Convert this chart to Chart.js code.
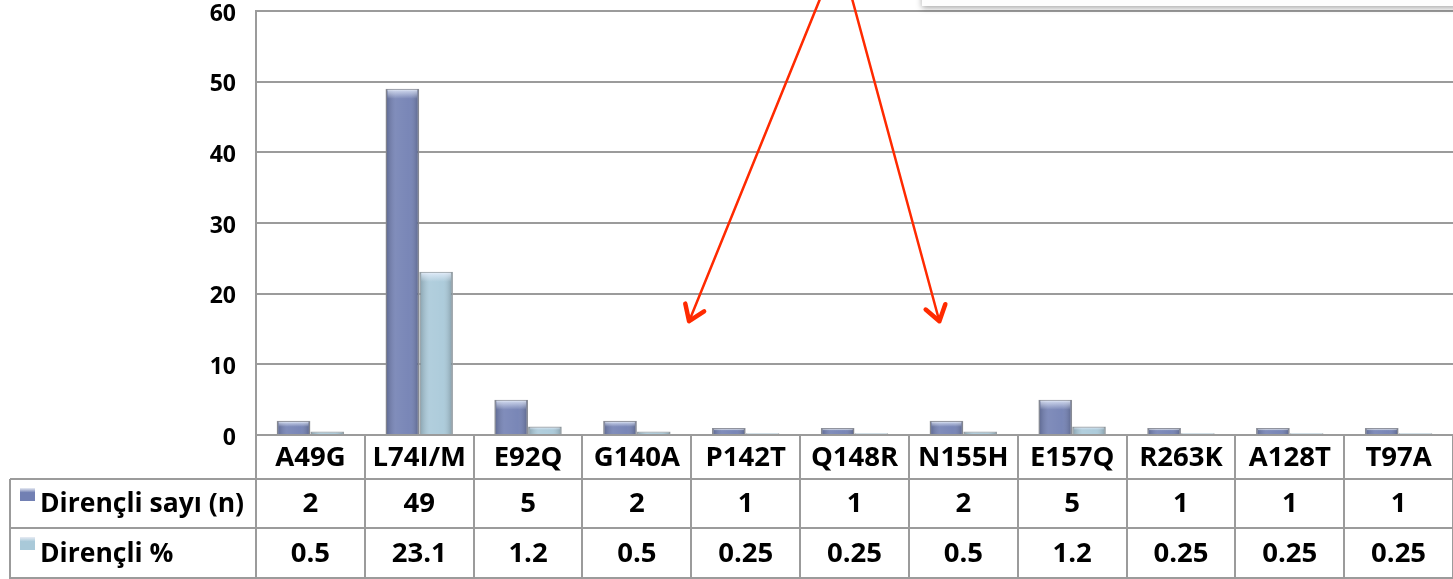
<!DOCTYPE html>
<html>
<head>
<meta charset="utf-8">
<script src="https://cdn.jsdelivr.net/npm/chart.js@4.4.1/dist/chart.umd.min.js"></script>
<style>
  html, body { margin: 0; padding: 0; background: #fff; }
  canvas { display: block; }
</style>
</head>
<body>
<canvas id="mutChart" width="1453" height="579"></canvas>
<script>
// ── Direnç mutasyonları – bar chart + data table ──

const categories = ['A49G','L74I/M','E92Q','G140A','P142T','Q148R','N155H','E157Q','R263K','A128T','T97A'];
const sayi = [2, 49, 5, 2, 1, 1, 2, 5, 1, 1, 1];
const yuzde = [0.5, 23.1, 1.2, 0.5, 0.25, 0.25, 0.5, 1.2, 0.25, 0.25, 0.25];
const yTicks = [0, 10, 20, 30, 40, 50, 60];
const rowNames = ['Dirençli sayı (n)', 'Dirençli %'];

const FONT = '"Open Sans", Lato, sans-serif';
const C1 = '#7280b3';
const C2 = '#a9c9d9';
const LINE = '#9b9b9b';

// 3D-ish shading on each bar (cylinder sides + light top cap)
const shadePlugin = {
  id: 'barShade',
  afterDatasetsDraw(chart) {
    const { ctx } = chart;
    ctx.save();
    chart.data.datasets.forEach((ds, di) => {
      chart.getDatasetMeta(di).data.forEach(bar => {
        const { x, y, base, width } = bar.getProps(['x', 'y', 'base', 'width'], true);
        const l = x - width / 2, h = base - y;
        if (h < 1) return;
        const g = ctx.createLinearGradient(l, 0, l + width, 0);
        g.addColorStop(0, 'rgba(0,0,0,0.22)');
        g.addColorStop(0.3, 'rgba(255,255,255,0.10)');
        g.addColorStop(0.7, 'rgba(255,255,255,0.05)');
        g.addColorStop(1, 'rgba(0,0,0,0.25)');
        ctx.fillStyle = g;
        ctx.fillRect(l + 1, y + 1, width - 2, h - 1);
        const capH = Math.min(10, h * 0.45);
        const c = ctx.createLinearGradient(0, y, 0, y + capH);
        c.addColorStop(0, 'rgba(235,242,255,0.85)');
        c.addColorStop(1, 'rgba(235,242,255,0)');
        ctx.fillStyle = c;
        ctx.fillRect(l + 2, y + 1, width - 4, capH);
      });
    });
    ctx.restore();
  }
};

// table under the plot: category row + two value rows
const tablePlugin = {
  id: 'dataTable',
  afterDraw(chart) {
    const { ctx, chartArea: a, scales: { x } } = chart;
    const colW = a.width / categories.length;
    const r0 = a.bottom, r1 = 479, r2 = 528, r3 = 579;
    const left = 10;
    ctx.save();
    ctx.strokeStyle = LINE; ctx.lineWidth = 2;
    ctx.beginPath();
    ctx.moveTo(left, r1); ctx.lineTo(a.right, r1);
    ctx.moveTo(left, r2); ctx.lineTo(a.right, r2);
    ctx.moveTo(left, r3 - 1); ctx.lineTo(a.right, r3 - 1);
    ctx.moveTo(left, r1); ctx.lineTo(left, r3);
    for (let i = 0; i <= categories.length; i++) {
      const xx = Math.round(a.left + i * colW);
      ctx.moveTo(xx, r0); ctx.lineTo(xx, r3);
    }
    ctx.stroke();

    ctx.fillStyle = '#000';
    ctx.textAlign = 'center'; ctx.textBaseline = 'middle';
    ctx.font = 'bold 27.5px ' + FONT;
    categories.forEach((c, i) => {
      const cx = x.getPixelForValue(i);
      ctx.fillText(c, cx, (r0 + r1) / 2 + 1);
      ctx.fillText(String(sayi[i]), cx, (r1 + r2) / 2 + 1);
      ctx.fillText(String(yuzde[i]), cx, (r2 + r3) / 2 + 1);
    });

    // row headers with legend swatches
    ctx.textAlign = 'left';
    ctx.font = 'bold 26.5px ' + FONT;
    [C1, C2].forEach((col, k) => {
      const top = k === 0 ? r1 : r2, bot = k === 0 ? r2 : r3;
      const sy = top + 9;
      const g = ctx.createLinearGradient(0, sy, 0, sy + 13);
      g.addColorStop(0, '#e8ecf4'); g.addColorStop(0.35, col); g.addColorStop(1, col);
      ctx.fillStyle = g;
      ctx.fillRect(20, sy, 15, 13);
      ctx.fillStyle = '#000';
      ctx.fillText(rowNames[k], 40, (top + bot) / 2 + 1);
    });
    ctx.restore();
  }
};

// red arrows + shadowed box edge at the top (annotations)
const arrowPlugin = {
  id: 'arrows',
  afterDraw(chart) {
    const { ctx, scales: { x, y } } = chart;
    ctx.save();
    ctx.shadowColor = 'rgba(0,0,0,0.35)'; ctx.shadowBlur = 6; ctx.shadowOffsetY = 2;
    ctx.fillStyle = '#fdfdfd';
    ctx.fillRect(x.getPixelForValue(5.62), -20, 700, 26);
    ctx.restore();

    const arrows = [
      { from: [4.68, 61.6], to: [3.48, 16.1] },
      { from: [4.98, 61.6], to: [5.78, 16.1] }
    ];
    ctx.save();
    ctx.strokeStyle = '#ff2a00'; ctx.lineCap = 'round'; ctx.lineJoin = 'round';
    arrows.forEach(ar => {
      const x0 = x.getPixelForValue(ar.from[0]), y0 = y.getPixelForValue(ar.from[1]);
      const x1 = x.getPixelForValue(ar.to[0]), y1 = y.getPixelForValue(ar.to[1]);
      const ang = Math.atan2(y1 - y0, x1 - x0);
      ctx.lineWidth = 2.5;
      ctx.beginPath();
      ctx.moveTo(x0, y0); ctx.lineTo(x1, y1);
      ctx.stroke();
      ctx.lineWidth = 4.5;
      ctx.beginPath();
      const h = 18, spread = 0.6;
      ctx.moveTo(x1 - h * Math.cos(ang - spread), y1 - h * Math.sin(ang - spread));
      ctx.lineTo(x1, y1);
      ctx.lineTo(x1 - h * Math.cos(ang + spread), y1 - h * Math.sin(ang + spread));
      ctx.stroke();
    });
    ctx.restore();
  }
};

new Chart(document.getElementById('mutChart').getContext('2d'), {
  type: 'bar',
  data: {
    labels: categories,
    datasets: [
      { label: rowNames[0], data: sayi, backgroundColor: C1, borderColor: '#8c8f99', borderWidth: 1.5, categoryPercentage: 0.62, barPercentage: 1.0 },
      { label: rowNames[1], data: yuzde, backgroundColor: C2, borderColor: '#9aa3a8', borderWidth: 1.5, categoryPercentage: 0.62, barPercentage: 1.0 }
    ]
  },
  options: {
    responsive: false,
    animation: false,
    layout: { padding: { top: 11, left: 0, right: 0, bottom: 0 } },
    plugins: { legend: { display: false }, tooltip: { enabled: false } },
    scales: {
      x: {
        grid: { display: false }, border: { display: false },
        ticks: { display: false },
        afterFit: s => { s.height = 144; }
      },
      y: {
        min: 0, max: 60,
        afterBuildTicks: s => { s.ticks = yTicks.map(v => ({ value: v })); },
        afterFit: s => { s.width = 256; s.paddingTop = 0; s.paddingBottom = 0; },
        grid: { color: LINE, lineWidth: 2, drawTicks: false },
        border: { display: true, color: LINE, width: 2 },
        ticks: { padding: 20, labelOffset: 3, color: '#000', font: { family: FONT, size: 23, weight: 'bold' } }
      }
    }
  },
  plugins: [shadePlugin, tablePlugin, arrowPlugin]
});
</script>
</body>
</html>
